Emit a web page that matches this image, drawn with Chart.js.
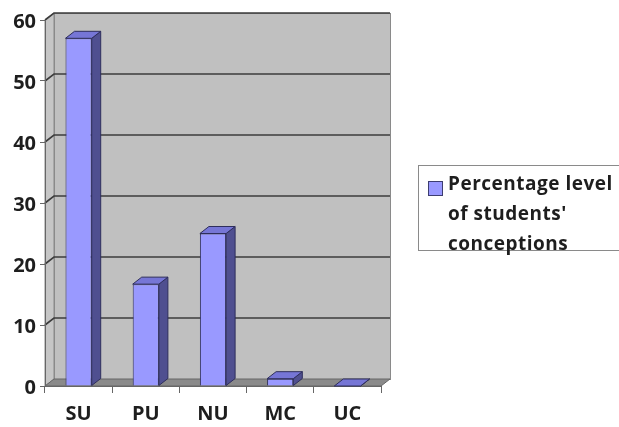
<!DOCTYPE html>
<html>
<head>
<meta charset="utf-8">
<script src="https://cdn.jsdelivr.net/npm/chart.js@4"></script>
<style>
  html, body { margin: 0; padding: 0; background: #fff; }
  #wrap { position: relative; width: 619px; height: 427px; }
  #legend {
    position: absolute; left: 418px; top: 165px; width: 210px; height: 86px;
    border: 1px solid #8a8a8a; box-sizing: border-box; background: #fff;
    font-family: "Open Sans", sans-serif; font-weight: bold; font-size: 19px;
    letter-spacing: 0.5px; color: #1e1e1e;
  }
  #legend .swatch {
    position: absolute; left: 9px; top: 15px; width: 13px; height: 13px;
    background: #9999ff; border: 1px solid #3d3d70;
  }
  #legend .txt { position: absolute; left: 29px; top: 2px; line-height: 30px; white-space: nowrap; }
</style>
</head>
<body>
<div id="wrap">
  <canvas id="chart" width="619" height="427"></canvas>
  <div id="legend"><div class="swatch"></div><div class="txt" id="legend-text"></div></div>
</div>
<script>
// Chart data
const categories = ['SU', 'PU', 'NU', 'MC', 'UC'];
const percentages = [57, 16.7, 25, 1.2, 0];
const seriesLabel = ["Percentage level", "of students'", "conceptions"];
const yTicks = [0, 10, 20, 30, 40, 50, 60];

// 3D depth offset
const DX = 9;
const DY = -7;

document.getElementById('legend-text').innerHTML = seriesLabel.join('<br>');

// Walls, floor and gridlines behind the bars, plus bar sides and tops
const wallPlugin = {
  id: 'walls',
  beforeDraw(chart) {
    const { ctx, chartArea: a, scales } = chart;
    const y = scales.y;
    ctx.save();
    // left side wall
    ctx.fillStyle = '#c6c6c6';
    ctx.beginPath();
    ctx.moveTo(a.left, a.top);
    ctx.lineTo(a.left + DX, a.top + DY);
    ctx.lineTo(a.left + DX, a.bottom + DY);
    ctx.lineTo(a.left, a.bottom);
    ctx.closePath();
    ctx.fill();
    ctx.strokeStyle = '#8a8a8a';
    ctx.lineWidth = 1;
    ctx.stroke();
    // back wall
    ctx.fillStyle = '#c0c0c0';
    ctx.fillRect(a.left + DX, a.top + DY, a.right - a.left, a.bottom - a.top);
    ctx.strokeRect(a.left + DX + 0.5, a.top + DY + 0.5, a.right - a.left, a.bottom - a.top);
    // gridlines
    ctx.strokeStyle = '#3c3c3c';
    ctx.lineWidth = 1.6;
    yTicks.forEach(v => {
      if (v === 0) return;
      const py = y.getPixelForValue(v);
      ctx.beginPath();
      ctx.moveTo(a.left, py);
      ctx.lineTo(a.left + DX, py + DY);
      ctx.lineTo(a.right + DX, py + DY);
      ctx.stroke();
    });
    // floor
    const z = y.getPixelForValue(0);
    ctx.fillStyle = '#8a8a8a';
    ctx.beginPath();
    ctx.moveTo(a.left, z);
    ctx.lineTo(a.right, z);
    ctx.lineTo(a.right + DX, z + DY);
    ctx.lineTo(a.left + DX, z + DY);
    ctx.closePath();
    ctx.fill();
    ctx.strokeStyle = '#666';
    ctx.lineWidth = 1;
    ctx.stroke();
    ctx.restore();
  },
  afterDatasetsDraw(chart) {
    const { ctx } = chart;
    const meta = chart.getDatasetMeta(0);
    ctx.save();
    ctx.lineWidth = 1;
    ctx.strokeStyle = '#2e2e5c';
    meta.data.forEach(bar => {
      const { x, y, base, width } = bar.getProps(['x', 'y', 'base', 'width'], true);
      const l = x - width / 2, r = x + width / 2;
      // side face
      ctx.fillStyle = '#4f4f90';
      ctx.beginPath();
      ctx.moveTo(r, y);
      ctx.lineTo(r + DX, y + DY);
      ctx.lineTo(r + DX, base + DY);
      ctx.lineTo(r, base);
      ctx.closePath();
      ctx.fill();
      ctx.stroke();
      // top face
      ctx.fillStyle = '#7676d6';
      ctx.beginPath();
      ctx.moveTo(l, y);
      ctx.lineTo(l + DX, y + DY);
      ctx.lineTo(r + DX, y + DY);
      ctx.lineTo(r, y);
      ctx.closePath();
      ctx.fill();
      ctx.stroke();
    });
    ctx.restore();
  }
};

const tickFont = { family: 'Open Sans', size: 20, weight: 'bold' };

new Chart(document.getElementById('chart'), {
  type: 'bar',
  data: {
    labels: categories,
    datasets: [{
      label: seriesLabel.join(' '),
      data: percentages,
      backgroundColor: '#9999ff',
      borderColor: '#2e2e5c',
      borderWidth: 1,
      categoryPercentage: 1,
      barPercentage: 0.39
    }]
  },
  options: {
    responsive: false,
    animation: false,
    layout: { padding: { top: 20, right: 238, left: 0, bottom: 0 } },
    plugins: { legend: { display: false }, tooltip: { enabled: false } },
    scales: {
      x: {
        offset: true,
        grid: { offset: true, drawOnChartArea: false, tickLength: 7, color: '#666' },
        border: { display: true, color: '#666', width: 1 },
        ticks: { font: tickFont, color: '#1e1e1e', padding: 9 },
        afterFit(s) { s.height = 41; }
      },
      y: {
        min: 0,
        max: 60,
        ticks: { stepSize: 10, font: tickFont, color: '#1e1e1e', padding: 4, labelOffset: 2 },
        grid: { drawOnChartArea: false, tickLength: 5, color: '#666' },
        border: { display: true, color: '#666', width: 1 },
        afterFit(s) { s.width = 45; }
      }
    }
  },
  plugins: [wallPlugin]
});
</script>
</body>
</html>
